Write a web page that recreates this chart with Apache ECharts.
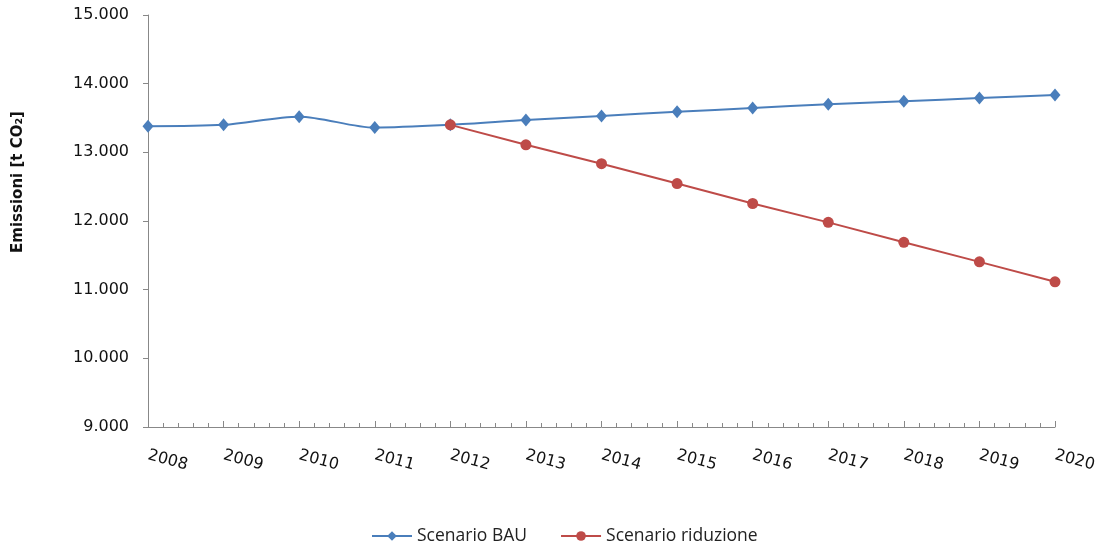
<!DOCTYPE html>
<html>
<head>
<meta charset="utf-8">
<script src="https://cdn.jsdelivr.net/npm/echarts@6/dist/echarts.min.js"></script>
<style>
  html, body { margin: 0; padding: 0; background: #fff; }
  #chart { width: 1101px; height: 548px; }
</style>
</head>
<body>
<div id="chart"></div>
<script>
// anni e valori
const years = [2008, 2009, 2010, 2011, 2012, 2013, 2014, 2015, 2016, 2017, 2018, 2019, 2020]
const bau = [13380, 13400, 13520, 13360, 13400, 13470, 13530, 13590, 13645, 13700, 13745, 13790, 13835]
const riduzione = [null, null, null, null, 13400, 13110, 12835, 12545, 12255, 11980, 11690, 11405, 11115]
const seriesNames = ['Scenario BAU', 'Scenario riduzione']

const chart = echarts.init(document.getElementById('chart'))

// 13000 -> "13.000"
function fmtThousands(v) {
  return String(v).replace(/\B(?=(\d{3})+(?!\d))/g, '.')
}

chart.setOption({
  backgroundColor: '#fff',
  animation: false,
  textStyle: { fontFamily: 'DejaVu Sans' },
  grid: { left: 148, right: 46, top: 15, bottom: 121 },
  legend: {
    top: 522,
    left: 366,
    itemWidth: 40,
    itemHeight: 12,
    itemGap: 33,
    textStyle: { fontFamily: 'Open Sans', fontSize: 17.5, color: '#222' },
    data: seriesNames
  },
  xAxis: {
    type: 'value',
    min: 2008,
    max: 2020,
    interval: 1,
    axisLine: { lineStyle: { color: '#888', width: 1 } },
    axisTick: { inside: true, length: 6, lineStyle: { color: '#888' } },
    minorTick: { show: true, splitNumber: 5, length: 4, lineStyle: { color: '#888' } },
    splitLine: { show: false },
    axisLabel: {
      rotate: -15,
      margin: 28,
      fontSize: 16,
      color: '#111',
      formatter: v => String(v)
    }
  },
  yAxis: {
    type: 'value',
    min: 9000,
    max: 15000,
    interval: 1000,
    name: 'Emissioni [t CO₂]',
    nameLocation: 'middle',
    nameGap: 122,
    nameRotate: 90,
    nameTextStyle: { fontSize: 15, fontWeight: 'bold', color: '#111', padding: [0, 0, 0, 78] },
    axisLine: { show: true, lineStyle: { color: '#888', width: 1 } },
    axisTick: { show: true, length: 5, lineStyle: { color: '#888' } },
    splitLine: { show: false },
    axisLabel: {
      fontSize: 16,
      margin: 19,
      color: '#111',
      formatter: v => fmtThousands(v)
    }
  },
  series: [
    {
      name: seriesNames[0],
      type: 'line',
      smooth: 0.3,
      symbol: 'diamond',
      symbolSize: [11, 13],
      color: '#4a7ebb',
      lineStyle: { width: 2, color: '#4a7ebb' },
      itemStyle: { color: '#4a7ebb' },
      data: years.map((y, i) => [y, bau[i]])
    },
    {
      name: seriesNames[1],
      type: 'line',
      symbol: 'circle',
      symbolSize: 11,
      color: '#be4b48',
      lineStyle: { width: 2, color: '#be4b48' },
      itemStyle: { color: '#be4b48' },
      data: years.map((y, i) => [y, riduzione[i]])
    }
  ]
})
</script>
</body>
</html>
